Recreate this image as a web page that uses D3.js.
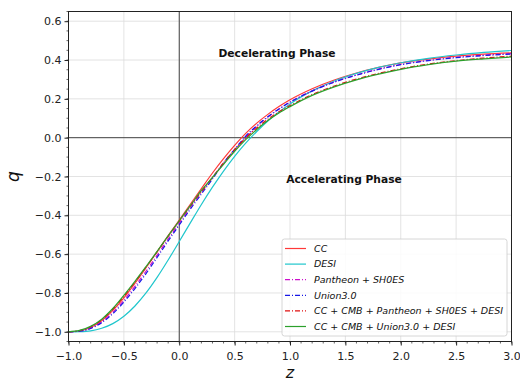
<!DOCTYPE html>
<html lang="en">
<head>
<meta charset="UTF-8">
<title>q(z)</title>
<script src="https://cdn.jsdelivr.net/npm/d3@7"></script>
<style>
  body { margin: 0; background: #fff; }
  svg text { font-family: "DejaVu Sans", sans-serif; }
</style>
</head>
<body>
<script>

var w = 520;
var h = 381;
var margin = {top: 11.5, right: 8.5, bottom: 39.5, left: 68.5};

// redshift samples
var zVals = [-1.0, -0.9, -0.8, -0.7, -0.6, -0.5, -0.4, -0.3, -0.2, -0.1,
             0.0, 0.1, 0.2, 0.3, 0.4, 0.5, 0.6, 0.7, 0.8, 0.9,
             1.0, 1.2, 1.4, 1.6, 1.8, 2.0, 2.25, 2.5, 2.75, 3.0];

// deceleration parameter
var qCC = [-1.0, -0.996, -0.978, -0.943, -0.89, -0.825, -0.75, -0.67, -0.588, -0.505,
           -0.425, -0.343, -0.262, -0.182, -0.108, -0.04, 0.022, 0.075, 0.12, 0.16,
           0.195, 0.252, 0.297, 0.333, 0.362, 0.385, 0.405, 0.42, 0.43, 0.437];
var qDESI = [-1.0, -0.999, -0.995, -0.982, -0.958, -0.92, -0.867, -0.80, -0.72, -0.63,
             -0.535, -0.439, -0.344, -0.255, -0.172, -0.096, -0.028, 0.032, 0.086, 0.132,
             0.174, 0.241, 0.292, 0.331, 0.362, 0.386, 0.409, 0.426, 0.439, 0.449];
var qPantheon = [-1.0, -0.996, -0.981, -0.949, -0.90, -0.838, -0.766, -0.688, -0.606, -0.522,
                 -0.44, -0.358, -0.28, -0.205, -0.132, -0.064, 0.002, 0.058, 0.106, 0.147,
                 0.183, 0.241, 0.287, 0.323, 0.353, 0.377, 0.398, 0.414, 0.425, 0.433];
var qUnion = [-1.0, -0.997, -0.983, -0.953, -0.907, -0.847, -0.777, -0.70, -0.617, -0.532,
              -0.45, -0.368, -0.29, -0.213, -0.13, -0.06, 0.008, 0.062, 0.108, 0.148,
              0.183, 0.24, 0.286, 0.322, 0.352, 0.376, 0.397, 0.412, 0.423, 0.431];
var qCombPantheon = [-1.0, -0.994, -0.974, -0.938, -0.884, -0.817, -0.744, -0.667, -0.588, -0.508,
                     -0.43, -0.353, -0.278, -0.205, -0.13, -0.062, -0.002, 0.05, 0.095, 0.133,
                     0.165, 0.222, 0.266, 0.302, 0.331, 0.355, 0.379, 0.397, 0.41, 0.42];
var qCombUnion = [-1.0, -0.993, -0.972, -0.935, -0.88, -0.812, -0.74, -0.664, -0.586, -0.506,
                  -0.428, -0.35, -0.272, -0.205, -0.137, -0.07, -0.01, 0.042, 0.088, 0.127,
                  0.16, 0.218, 0.262, 0.298, 0.327, 0.352, 0.376, 0.394, 0.406, 0.416];

var seriesNames = ["CC", "DESI", "Pantheon + SH0ES", "Union3.0",
                   "CC + CMB + Pantheon + SH0ES + DESI", "CC + CMB + Union3.0 + DESI"];
var seriesColors = ["#ff3838", "#1fc6cc", "#cc10cc", "#1818e6", "#e01010", "#2ca02c"];
var seriesDash = [null, null, "5,2,1,2", "5,2,1,2", "5,2,1,2", null];
var seriesValues = [qCC, qDESI, qPantheon, qUnion, qCombPantheon, qCombUnion];

var xTicks = [-1.0, -0.5, 0.0, 0.5, 1.0, 1.5, 2.0, 2.5, 3.0];
var yTicks = [-1.0, -0.8, -0.6, -0.4, -0.2, 0.0, 0.2, 0.4, 0.6];

var x = d3.scaleLinear().domain([-1, 3]).range([margin.left, w - margin.right]);
var y = d3.scaleLinear().domain([-1.05, 0.65]).range([h - margin.bottom, margin.top]);

var svg = d3.select("body").append("svg")
    .attr("width", w)
    .attr("height", h);

// grid
svg.append("g").selectAll("line")
    .data(xTicks)
    .enter().append("line")
    .attr("x1", function(d) { return x(d); })
    .attr("x2", function(d) { return x(d); })
    .attr("y1", margin.top)
    .attr("y2", h - margin.bottom)
    .attr("stroke", "#dcdcdc")
    .attr("stroke-width", 0.8);

svg.append("g").selectAll("line")
    .data(yTicks)
    .enter().append("line")
    .attr("x1", margin.left)
    .attr("x2", w - margin.right)
    .attr("y1", function(d) { return y(d); })
    .attr("y2", function(d) { return y(d); })
    .attr("stroke", "#dcdcdc")
    .attr("stroke-width", 0.8);

// zero lines
svg.append("line")
    .attr("x1", margin.left).attr("x2", w - margin.right)
    .attr("y1", y(0)).attr("y2", y(0))
    .attr("stroke", "#333").attr("stroke-width", 0.9);
svg.append("line")
    .attr("x1", x(0)).attr("x2", x(0))
    .attr("y1", margin.top).attr("y2", h - margin.bottom)
    .attr("stroke", "#333").attr("stroke-width", 0.9);

// curves
var line = d3.line()
    .x(function(d) { return x(d[0]); })
    .y(function(d) { return y(d[1]); })
    .curve(d3.curveMonotoneX);

var plot = svg.append("g");
seriesValues.forEach(function(vals, i) {
    var pts = zVals.map(function(z, j) { return [z, vals[j]]; });
    plot.append("path")
        .attr("d", line(pts))
        .attr("fill", "none")
        .attr("stroke", seriesColors[i])
        .attr("stroke-width", 1.2)
        .attr("stroke-dasharray", seriesDash[i]);
});

// axes
var xAxis = d3.axisBottom(x)
    .tickValues(xTicks)
    .tickFormat(d3.format(".1f"))
    .tickSizeOuter(0)
    .tickSize(4);
var yAxis = d3.axisLeft(y)
    .tickValues(yTicks)
    .tickFormat(d3.format(".1f"))
    .tickSizeOuter(0)
    .tickSize(4);

var gx = svg.append("g")
    .attr("transform", "translate(0," + (h - margin.bottom) + ")")
    .call(xAxis);
var gy = svg.append("g")
    .attr("transform", "translate(" + margin.left + ",0)")
    .call(yAxis);

[gx, gy].forEach(function(g) {
    g.select(".domain").remove();
    g.selectAll("text")
        .attr("font-family", "DejaVu Sans")
        .attr("font-size", "11px")
        .attr("fill", "#222");
    g.selectAll("line").attr("stroke", "#222");
});
gx.selectAll("text").attr("dy", "1.0em");

// minor ticks
var xMinor = d3.range(-1, 3.0001, 0.1);
var yMinor = d3.range(-1.05, 0.6501, 0.05);
svg.append("g").selectAll("line")
    .data(xMinor)
    .enter().append("line")
    .attr("x1", function(d) { return x(d); })
    .attr("x2", function(d) { return x(d); })
    .attr("y1", h - margin.bottom)
    .attr("y2", h - margin.bottom + 2)
    .attr("stroke", "#222")
    .attr("stroke-width", 0.7);
svg.append("g").selectAll("line")
    .data(yMinor)
    .enter().append("line")
    .attr("x1", margin.left - 2)
    .attr("x2", margin.left)
    .attr("y1", function(d) { return y(d); })
    .attr("y2", function(d) { return y(d); })
    .attr("stroke", "#222")
    .attr("stroke-width", 0.7);

// frame
svg.append("rect")
    .attr("x", margin.left)
    .attr("y", margin.top)
    .attr("width", w - margin.left - margin.right)
    .attr("height", h - margin.top - margin.bottom)
    .attr("fill", "none")
    .attr("stroke", "#222")
    .attr("stroke-width", 1);

// axis labels
svg.append("text")
    .text("z")
    .attr("x", (margin.left + w - margin.right) / 2)
    .attr("y", 378)
    .attr("text-anchor", "middle")
    .attr("font-style", "italic")
    .attr("font-size", "16px")
    .attr("fill", "#111");
svg.append("text")
    .text("q")
    .attr("transform", "translate(19," + y(-0.2) + ") rotate(-90)")
    .attr("text-anchor", "middle")
    .attr("font-style", "italic")
    .attr("font-size", "17px")
    .attr("fill", "#111");

// phase annotations
svg.append("text")
    .text("Decelerating Phase")
    .attr("x", 277)
    .attr("y", 57)
    .attr("text-anchor", "middle")
    .attr("font-family", "Liberation Sans")
    .attr("font-weight", "bold")
    .attr("font-size", "10.7px")
    .attr("fill", "#111");
svg.append("text")
    .text("Accelerating Phase")
    .attr("x", 344)
    .attr("y", 183)
    .attr("text-anchor", "middle")
    .attr("font-family", "Liberation Sans")
    .attr("font-weight", "bold")
    .attr("font-size", "10.7px")
    .attr("fill", "#111");

// legend
var lg = svg.append("g").attr("transform", "translate(282,239)");
lg.append("rect")
    .attr("width", 225)
    .attr("height", 97)
    .attr("rx", 2.5)
    .attr("fill", "#fff")
    .attr("fill-opacity", 0.85)
    .attr("stroke", "#cccccc")
    .attr("stroke-width", 0.8);

var rows = lg.selectAll("g.row")
    .data(seriesNames)
    .enter().append("g")
    .attr("transform", function(d, i) { return "translate(0," + (9.5 + i * 15.6) + ")"; });
rows.append("line")
    .attr("x1", 3).attr("x2", 24)
    .attr("stroke", function(d, i) { return seriesColors[i]; })
    .attr("stroke-width", 1.2)
    .attr("stroke-dasharray", function(d, i) { return seriesDash[i]; });
rows.append("text")
    .text(function(d) { return d; })
    .attr("x", 32)
    .attr("dy", "0.35em")
    .attr("font-style", "italic")
    .attr("font-size", "9.5px")
    .attr("fill", "#111");

</script>
</body>
</html>
